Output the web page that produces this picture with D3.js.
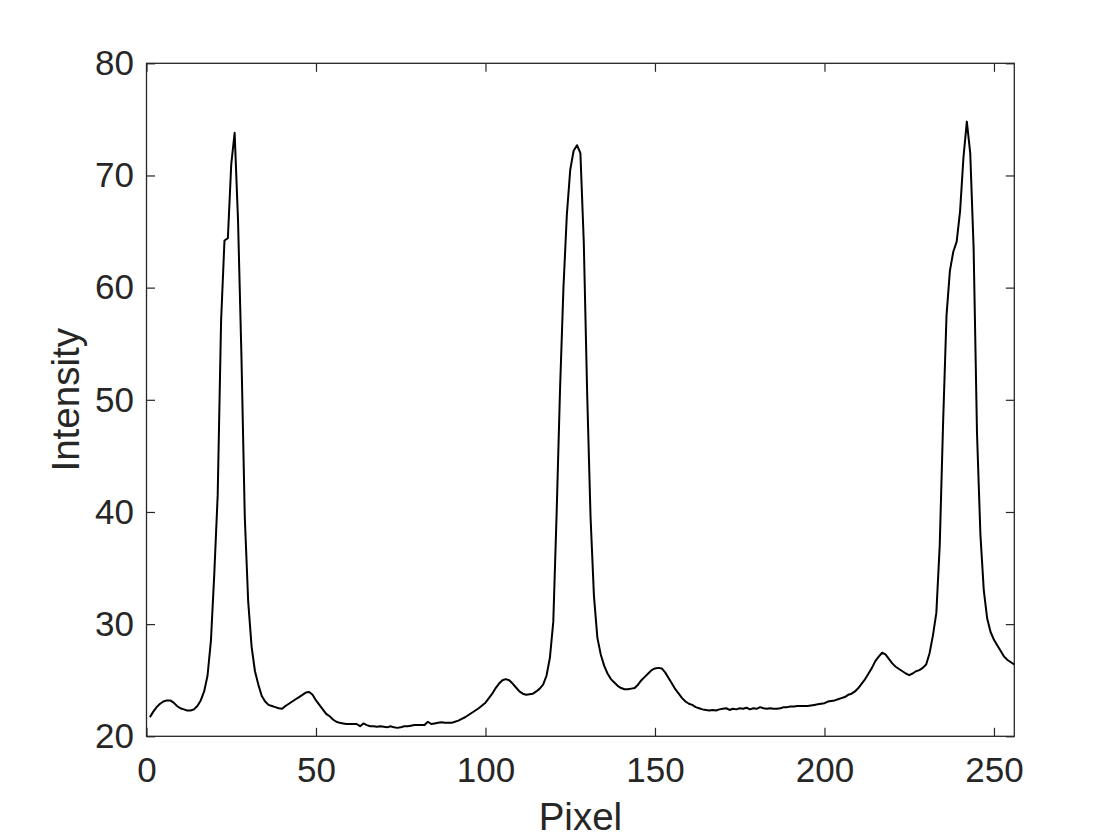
<!DOCTYPE html>
<html>
<head>
<meta charset="utf-8">
<script src="https://cdn.jsdelivr.net/npm/d3@7"></script>
<style>
  html, body { margin: 0; padding: 0; background: #fff; }
  svg { display: block; }
  text { font-family: Helvetica, Arial, "Liberation Sans", sans-serif; fill: #262626; }
</style>
</head>
<body>
<svg id="chart" width="1120" height="840"></svg>
<script>
// ---- data ----
const pixelIndex = d3.range(1, 257); // pixel positions 1..256
const intensity = [
  21.7, 22.2, 22.6, 22.9, 23.1, 23.2, 23.2, 23.0, 22.7, 22.5,
  22.4, 22.3, 22.3, 22.4, 22.7, 23.2, 24.0, 25.4, 28.5, 34.5,
  41.5, 57.0, 64.2, 64.4, 71.0, 73.8, 66.0, 54.0, 39.5, 32.0,
  28.0, 25.8, 24.6, 23.6, 23.1, 22.8, 22.7, 22.6, 22.5, 22.45,
  22.7, 22.9, 23.1, 23.3, 23.5, 23.7, 23.9, 23.95, 23.7, 23.2,
  22.8, 22.4, 22.0, 21.8, 21.5, 21.3, 21.2, 21.15, 21.1, 21.1,
  21.1, 21.1, 20.9, 21.15, 21.0, 20.9, 20.9, 20.85, 20.9, 20.85,
  20.8, 20.9, 20.8, 20.75, 20.8, 20.9, 20.9, 20.95, 21.0, 21.0,
  21.0, 21.0, 21.3, 21.1, 21.15, 21.2, 21.25, 21.2, 21.2, 21.2,
  21.3, 21.4, 21.55, 21.7, 21.9, 22.1, 22.3, 22.5, 22.75, 23.0,
  23.4, 23.8, 24.3, 24.7, 25.0, 25.1, 25.0, 24.7, 24.35, 24.0,
  23.8, 23.7, 23.75, 23.8, 24.0, 24.25, 24.6, 25.4, 27.0, 30.2,
  40.0, 51.0, 60.0, 66.5, 70.5, 72.2, 72.7, 72.0, 64.0, 50.5,
  39.5, 32.5, 28.8, 27.3, 26.3, 25.6, 25.1, 24.8, 24.5, 24.3,
  24.2, 24.2, 24.25, 24.3, 24.6, 25.0, 25.3, 25.6, 25.9, 26.05,
  26.1, 26.05, 25.7, 25.2, 24.7, 24.2, 23.8, 23.4, 23.1, 22.9,
  22.8, 22.6, 22.5, 22.4, 22.35, 22.3, 22.35, 22.3, 22.4, 22.45,
  22.5, 22.35, 22.45, 22.4, 22.5, 22.45, 22.55, 22.4, 22.5, 22.45,
  22.6, 22.5, 22.45, 22.5, 22.45, 22.45, 22.5, 22.6, 22.6, 22.65,
  22.65, 22.7, 22.7, 22.7, 22.7, 22.75, 22.8, 22.85, 22.9, 22.95,
  23.1, 23.15, 23.2, 23.3, 23.4, 23.5, 23.7, 23.8, 24.0, 24.3,
  24.7, 25.1, 25.6, 26.1, 26.7, 27.1, 27.45, 27.3, 26.9, 26.5,
  26.2, 26.0, 25.8, 25.6, 25.45, 25.6, 25.8, 25.9, 26.1, 26.4,
  27.4, 29.0, 31.0, 37.0, 48.0, 57.5, 61.5, 63.2, 64.1, 66.8,
  71.6, 74.8, 72.0, 63.5, 47.0, 38.0, 33.0, 30.5, 29.3, 28.6,
  28.1, 27.6, 27.1, 26.8, 26.6, 26.4
];
const xTicks = [0, 50, 100, 150, 200, 250];
const yTicks = [20, 30, 40, 50, 60, 70, 80];
const xLabel = "Pixel";
const yLabel = "Intensity";

// ---- layout ----
const plotL = 146.5, plotR = 1014.3, plotT = 63.3, plotB = 736.3;
const tickLen = 8.5;
const tickFont = 35, labelFont = 38.5;
const axisColor = "#262626";

const svg = d3.select("#chart");

const x = d3.scaleLinear().domain([0, 256]).range([plotL, plotR]);
const y = d3.scaleLinear().domain([20, 80]).range([plotB, plotT]);

function styleAxis(g, showText) {
  g.select(".domain").remove();
  g.selectAll(".tick line").attr("stroke", axisColor).attr("stroke-width", 1.2);
  g.selectAll(".tick text").attr("fill", axisColor).style("font-size", tickFont + "px")
    .style("font-family", "Helvetica, Arial, 'Liberation Sans', sans-serif");
  if (!showText) g.selectAll(".tick text").remove();
}

// bottom axis
svg.append("g").attr("transform", `translate(0,${plotB})`)
  .call(d3.axisBottom(x).tickValues(xTicks).tickFormat(d3.format("d"))
    .tickSizeInner(-tickLen).tickSizeOuter(0).tickPadding(20.8))
  .call(g => styleAxis(g, true));
// top axis (ticks only)
svg.append("g").attr("transform", `translate(0,${plotT})`)
  .call(d3.axisTop(x).tickValues(xTicks).tickSizeInner(-tickLen).tickSizeOuter(0))
  .call(g => styleAxis(g, false));
// left axis
svg.append("g").attr("transform", `translate(${plotL},0)`)
  .call(d3.axisLeft(y).tickValues(yTicks).tickFormat(d3.format("d"))
    .tickSizeInner(-tickLen).tickSizeOuter(0).tickPadding(12.5))
  .call(g => styleAxis(g, true));
// right axis (ticks only)
svg.append("g").attr("transform", `translate(${plotR},0)`)
  .call(d3.axisRight(y).tickValues(yTicks).tickSizeInner(-tickLen).tickSizeOuter(0))
  .call(g => styleAxis(g, false));

// box
svg.append("rect")
  .attr("x", plotL).attr("y", plotT)
  .attr("width", plotR - plotL).attr("height", plotB - plotT)
  .attr("fill", "none").attr("stroke", axisColor).attr("stroke-width", 1.3);

// data line
const line = d3.line()
  .x((d, i) => x(pixelIndex[i]))
  .y(d => y(d));
svg.append("path")
  .datum(intensity)
  .attr("d", line)
  .attr("fill", "none")
  .attr("stroke", "#000")
  .attr("stroke-width", 2)
  .attr("stroke-linejoin", "round");

// axis labels
svg.append("text")
  .attr("x", (plotL + plotR) / 2).attr("y", 830)
  .attr("text-anchor", "middle")
  .style("font-size", labelFont + "px")
  .text(xLabel);
svg.append("text")
  .attr("transform", `translate(79,${(plotT + plotB) / 2}) rotate(-90)`)
  .attr("text-anchor", "middle")
  .style("font-size", labelFont + "px")
  .text(yLabel);
</script>
</body>
</html>
